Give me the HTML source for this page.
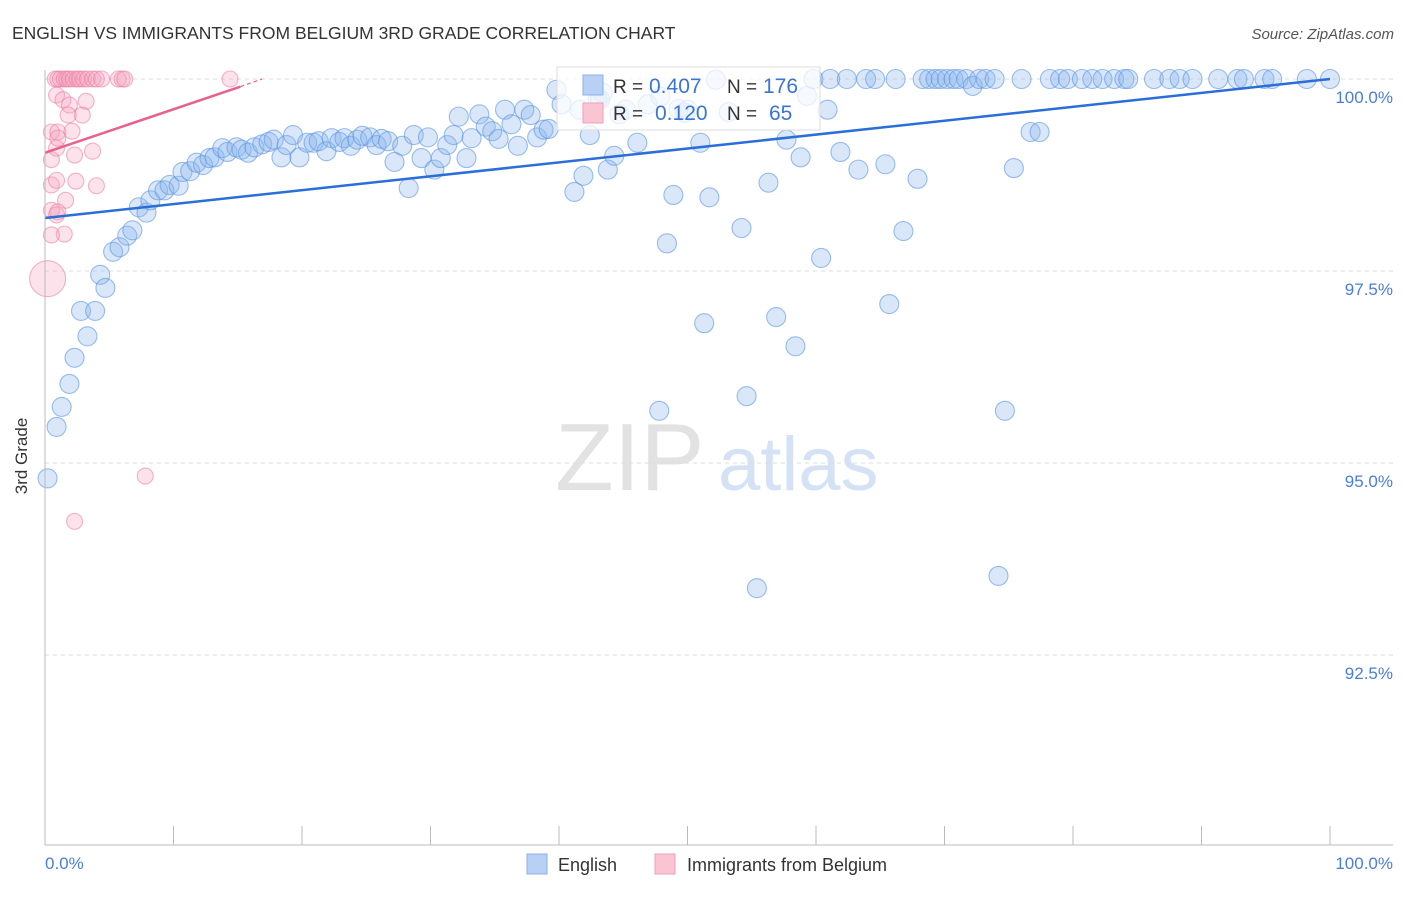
<!DOCTYPE html>
<html><head><meta charset="utf-8"><style>
body{margin:0;background:#fff;font-family:"Liberation Sans",sans-serif}
svg text{font-family:"Liberation Sans",sans-serif}
</style></head><body>
<svg id="c" width="1406" height="892">
<text x="12" y="39" font-size="17.5" fill="#333">ENGLISH VS IMMIGRANTS FROM BELGIUM 3RD GRADE CORRELATION CHART</text>
<text x="1394" y="39" font-size="15" fill="#555" font-style="italic" text-anchor="end">Source: ZipAtlas.com</text>
<g><text x="555" y="490" font-size="96" fill="#e2e2e2" font-family="Liberation Serif">ZIP</text><text x="718" y="490" font-size="76" fill="#d5e2f5">atlas</text></g>
<g id="grid"></g><g id="pts"></g><g id="trend"></g>
<line x1="45" y1="70" x2="45" y2="845" stroke="#bbb"/>
<line x1="45" y1="845" x2="1393" y2="845" stroke="#bbb"/>
<text x="27" y="456" font-size="17" fill="#333" text-anchor="middle" transform="rotate(-90 27 456)">3rd Grade</text>
<text x="45" y="869" font-size="17" fill="#4a7fd8">0.0%</text>
<text x="1393" y="869" font-size="17" fill="#4a7fd8" text-anchor="end">100.0%</text>
<g>
<rect x="557" y="67" width="263" height="63" fill="rgba(255,255,255,0.75)" stroke="#ddd"/>
<rect x="583" y="75" width="20" height="20" fill="#b7d0f3" stroke="#8ab0e8"/>
<rect x="583" y="103" width="20" height="20" fill="#f9c5d3" stroke="#f0a0b8"/>
<text x="613" y="93" font-size="19" fill="#333">R =</text>
<text x="649" y="93" font-size="21" fill="#3a74d6">0.407</text>
<text x="727" y="93" font-size="19" fill="#333">N =</text>
<text x="763" y="93" font-size="21" fill="#3a74d6">176</text>
<text x="613" y="120" font-size="19" fill="#333">R =</text>
<text x="655" y="120" font-size="21" fill="#3a74d6">0.120</text>
<text x="727" y="120" font-size="19" fill="#333">N =</text>
<text x="769" y="120" font-size="21" fill="#3a74d6">65</text>
</g>
<g>
<rect x="527" y="854" width="20" height="20" fill="#b7d0f3" stroke="#8ab0e8"/>
<text x="558" y="871" font-size="18" fill="#333">English</text>
<rect x="655" y="854" width="20" height="20" fill="#f9c5d3" stroke="#f0a0b8"/>
<text x="687" y="871" font-size="18" fill="#333">Immigrants from Belgium</text>
</g>
</svg>
<script>
const yTicks=[100,97.5,95,92.5];
const yTickLabels=["100.0%","97.5%","95.0%","92.5%"];
const xTicks=[0,10,20,30,40,50,60,70,80,90,100];
const engX=[0.2,0.9,1.3,1.9,2.3,3.3,2.8,3.9,4.3,4.7,5.3,5.8,6.4,6.8,7.3,7.9,8.2,8.8,9.3,9.7,10.4,10.7,11.3,11.8,12.3,12.8,13.2,13.8,14.2,14.9,15.3,15.8,16.3,16.9,17.4,17.8,18.4,18.8,19.3,19.8,20.4,20.9,21.3,21.9,22.3,22.9,23.3,23.8,24.3,24.7,25.3,25.8,26.2,26.7,27.2,27.8,28.3,28.7,29.3,29.8,30.3,30.8,31.3,31.8,32.2,32.8,33.2,33.8,34.3,34.8,35.3,35.8,36.3,36.8,37.3,37.8,38.3,38.8,39.2,39.8,40.2,41.2,41.9,42.4,43.0,43.4,43.8,44.3,44.7,45.2,46.1,46.9,47.9,48.4,48.9,49.3,49.8,51.0,51.3,51.7,52.2,53.2,54.2,54.6,56.3,56.9,57.7,58.4,58.8,59.3,59.8,60.4,60.9,61.1,61.9,62.4,63.3,63.9,64.6,65.4,65.7,66.2,66.8,67.9,68.3,68.8,69.3,69.7,70.2,70.7,71.1,71.7,72.2,72.7,73.2,73.9,74.2,74.7,75.4,76.0,76.7,77.4,78.2,79.0,79.6,80.7,81.5,82.3,83.2,84.0,84.3,86.3,87.5,88.3,89.3,91.3,92.8,93.3,94.9,95.5,98.2,100,47.8,55.4,50.0,41.6,43.2];
const engY=[94.80,95.47,95.73,96.03,96.37,96.65,96.98,96.98,97.45,97.28,97.75,97.81,97.96,98.03,98.33,98.26,98.42,98.55,98.55,98.62,98.61,98.79,98.80,98.91,98.88,98.97,98.98,99.10,99.05,99.11,99.08,99.04,99.11,99.15,99.18,99.21,98.98,99.14,99.27,98.98,99.17,99.17,99.19,99.06,99.23,99.18,99.23,99.13,99.21,99.26,99.24,99.14,99.22,99.19,98.92,99.13,98.58,99.27,98.97,99.24,98.82,98.97,99.14,99.27,99.51,98.97,99.23,99.54,99.38,99.32,99.22,99.60,99.41,99.13,99.60,99.53,99.24,99.34,99.35,99.86,99.67,98.53,98.74,99.27,99.73,99.82,98.82,99.00,99.54,99.60,99.17,99.67,99.77,97.86,98.49,99.61,99.56,99.17,96.82,98.46,99.99,99.57,98.06,95.87,98.65,96.90,99.21,96.52,98.98,99.78,100,97.67,99.60,100,99.05,100,98.82,100,100,98.89,97.07,100,98.02,98.70,100,100,100,100,100,100,100,100,99.91,100,100,100,93.53,95.68,98.84,100,99.31,99.31,100,100,100,100,100,100,100,100,100,100,100,100,100,100,100,100,100,100,100,100,95.68,93.37,99.60,99.60,99.73];
const belX=[0.8,1.0,1.2,1.5,1.7,1.9,2.2,2.5,2.7,3.0,3.3,3.7,4.0,4.4,5.7,6.0,6.2,14.4,0.9,1.4,1.9,3.2,2.9,1.8,0.5,1.0,2.1,3.7,2.3,0.5,0.9,1.0,0.5,0.9,2.4,4.0,1.6,0.5,0.9,1.0,1.5,0.5,0.2,7.8,2.3];
const belY=[100,100,100,100,100,100,100,100,100,100,100,100,100,100,100,100,100,100,99.79,99.73,99.66,99.71,99.53,99.53,99.31,99.31,99.32,99.06,99.01,98.95,99.10,99.23,98.62,98.68,98.67,98.61,98.42,98.29,98.23,98.27,97.98,97.97,97.40,94.83,94.24];
const belR=[8,8,8,8,8,8,8,8,8,8,8,8,8,8,8,8,8,8,8,8,8,8,8,8,8,8,8,8,8,8,8,8,8,8,8,8,8,8,8,8,8,8,18,8,8];
const engTrend=[[0,98.19],[100,100]];
const belTrend=[[0,99.04],[15.2,99.9]];
const belTrendDash=[[15.2,99.9],[16.9,100]];
const X=v=>45+v*12.85, Y=v=>79+(100-v)*76.8;
const NS="http://www.w3.org/2000/svg";
function mk(t,a,p){const e=document.createElementNS(NS,t);for(const k in a)e.setAttribute(k,a[k]);p.appendChild(e);return e;}
const grid=document.getElementById('grid'),svg=document.getElementById('c');
yTicks.forEach((t,i)=>{
 const l=mk('line',{x1:45,x2:1393,y1:Y(t),y2:Y(t),stroke:'#ddd','stroke-dasharray':'4,4'},grid);
 
 
 const tx=mk('text',{x:1393,y:Y(t)+24,'font-size':17,fill:'#4a7fd8','text-anchor':'end'},svg);
 tx.textContent=yTickLabels[i];
 
 
});
xTicks.forEach(t=>{
 const l=mk('line',{x1:X(t),x2:X(t),y1:826,y2:845,stroke:'#bbb'},grid);
 
 
});
const pts=document.getElementById('pts');
engX.forEach((x,i)=>{
 const c=mk('circle',{cx:X(x),cy:Y(engY[i]),r:9.5,fill:'rgba(140,182,238,0.33)',stroke:'rgba(90,148,228,0.6)','stroke-width':1.1},pts);
 
 
});
belX.forEach((x,i)=>{
 const c=mk('circle',{cx:X(x),cy:Y(belY[i]),r:belR[i],fill:'rgba(245,160,190,0.3)',stroke:'rgba(235,120,160,0.55)','stroke-width':1.1},pts);
 
 
});
const tr=document.getElementById('trend');
function line(d,col,dash,name){const l=mk('line',{x1:X(d[0][0]),y1:Y(d[0][1]),x2:X(d[1][0]),y2:Y(d[1][1]),stroke:col,'stroke-width':dash?1.2:2.5},tr);if(dash)l.setAttribute('stroke-dasharray','4,3');
 
 }
line(engTrend,'#2a6fd8',false,'english-trendline');
line(belTrend,'#e8628e',false,'belgium-trendline');
line(belTrendDash,'#e8628e',true,'belgium-trendline-extension');
</script>
</body></html>
